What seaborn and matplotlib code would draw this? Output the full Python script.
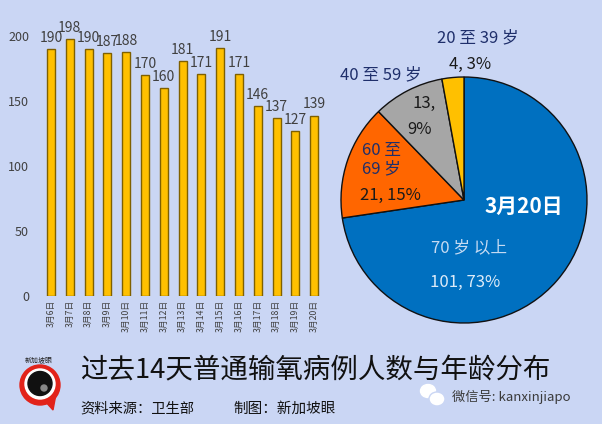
import matplotlib
matplotlib.use('Agg')
import matplotlib.pyplot as plt
import seaborn as sns
import pandas as pd
from matplotlib.patches import Circle, Polygon, Ellipse

# ---------------- data ----------------
dates = ['3月6日', '3月7日', '3月8日', '3月9日', '3月10日', '3月11日', '3月12日',
         '3月13日', '3月14日', '3月15日', '3月16日', '3月17日', '3月18日',
         '3月19日', '3月20日']
cases = [190, 198, 190, 187, 188, 170, 160, 181, 171, 191, 171, 146, 137, 127, 139]
y_ticks = [0, 50, 100, 150, 200]

age_groups = ['70岁以上', '60至69岁', '40至59岁', '20至39岁']
age_counts = [101, 21, 13, 4]
age_pct = [73, 15, 9, 3]
pie_colors = ['#0070C0', '#FF6600', '#A6A6A6', '#FFC000']
pie_date = '3月20日'

title = '过去14天普通输氧病例人数与年龄分布'
source = '资料来源：卫生部'
maker = '制图：新加坡眼'
wechat = '微信号: kanxinjiapo'
logo_text = '新加坡眼'

# ---------------- figure ----------------
W, H = 602, 424
sns.set_style('white')
plt.rcParams['font.family'] = ['Noto Sans CJK SC', 'DejaVu Sans']
bg = '#CAD6F4'
fig = plt.figure(figsize=(W / 100, H / 100), dpi=100)
fig.patch.set_facecolor(bg)


def fx(x):
    return x / W


def fy(y):
    return 1 - y / H


# ---------------- bar chart ----------------
ax = fig.add_axes([41.6 / W, 128 / H, 282 / W, 259.7 / H])
ax.set_facecolor('none')
df = pd.DataFrame({'date': dates, 'cases': cases})
sns.barplot(data=df, x='date', y='cases', color='#FFC000', saturation=1,
            width=0.43, edgecolor='#7F6000', linewidth=1, ax=ax)
ax.set_ylim(0, 200)
ax.set_xlim(-0.5, len(dates) - 0.5)
ax.set_yticks(y_ticks)
ax.tick_params(axis='y', length=0, pad=9, labelsize=9, labelcolor='#404040')
ax.tick_params(axis='x', length=0, pad=3, labelsize=6.3, labelcolor='#404040',
               rotation=90)
for s in ax.spines.values():
    s.set_visible(False)
ax.set_xlabel('')
ax.set_ylabel('')
ax.bar_label(ax.containers[0], padding=3, fontsize=10, color='#404040')

# ---------------- pie chart ----------------
r_px = 123
cx, cy = 464, 200
ext = 1.03
ax2 = fig.add_axes([(cx - r_px * ext) / W, (H - cy - r_px * ext) / H,
                    2 * r_px * ext / W, 2 * r_px * ext / H])
ax2.pie(age_counts, colors=pie_colors, startangle=90, counterclock=False,
        wedgeprops=dict(edgecolor='#111111', linewidth=1))
ax2.set_xlim(-ext, ext)
ax2.set_ylim(-ext, ext)
ax2.axis('off')

navy = '#1F2F6B'
dark = '#1a1a1a'
light1 = '#C5DAF2'
light2 = '#DDEBF8'


def lab(i):
    return f'{age_counts[i]}, {age_pct[i]}%'


# 20至39岁
fig.text(fx(478), fy(38), age_groups[3].replace('至', ' 至 ').replace('岁', ' 岁'),
         ha='center', va='center', fontsize=12, color=navy)
fig.text(fx(470), fy(64), lab(3), ha='center', va='center', fontsize=12, color=dark)
# 40至59岁
fig.text(fx(381), fy(75), age_groups[2].replace('至', ' 至 ').replace('岁', ' 岁'),
         ha='center', va='center', fontsize=12, color=navy)
fig.text(fx(424), fy(103), f'{age_counts[2]},', ha='center', va='center',
         fontsize=12, color=dark)
fig.text(fx(420), fy(129), f'{age_pct[2]}%', ha='center', va='center',
         fontsize=12, color=dark)
# 60至69岁
g = age_groups[1]
fig.text(fx(362), fy(150), g[:3].replace('至', ' 至'), ha='left', va='center',
         fontsize=12, color=navy)
fig.text(fx(362), fy(169), g[3:].replace('岁', ' 岁'), ha='left', va='center',
         fontsize=12, color=navy)
fig.text(fx(360), fy(195), lab(1), ha='left', va='center', fontsize=12, color=dark)
# date
fig.text(fx(524), fy(206), pie_date, ha='center', va='center', fontsize=15,
         fontweight='bold', color='white')
# 70岁以上
fig.text(fx(469), fy(248), age_groups[0].replace('岁', ' 岁 '), ha='center',
         va='center', fontsize=12, color=light1)
fig.text(fx(465), fy(282), lab(0), ha='center', va='center', fontsize=12,
         color=light2)

# ---------------- bottom texts ----------------
fig.text(fx(80), fy(370), title, ha='left', va='center', fontsize=19.8,
         color='#111111')
fig.text(fx(80), fy(409), source, ha='left', va='center', fontsize=10.3,
         color='#111111')
fig.text(fx(233), fy(409), maker, ha='left', va='center', fontsize=10.5,
         color='#111111')
fig.text(fx(452), fy(397), wechat, ha='left', va='center', fontsize=9.5,
         color='#3a3a3a')

# ---------------- decorations (logo, wechat icon) ----------------
ov = fig.add_axes([0, 0, 1, 1])
ov.set_xlim(0, W)
ov.set_ylim(H, 0)
ov.axis('off')
ov.patch.set_alpha(0)
ov.add_patch(Polygon([[44, 400], [56, 394], [53, 410]], closed=True,
                     color='#E2231A'))
ov.add_patch(Circle((40, 385), 20, color='#E2231A'))
ov.add_patch(Circle((40, 384), 15, color='white'))
ov.add_patch(Circle((40, 383.5), 12, color='#111111'))
ov.add_patch(Circle((44, 388), 3, color='#888888'))
ov.text(39, 360, logo_text, ha='center', va='center', fontsize=5,
        color='#222222')
ov.add_patch(Ellipse((428, 391), 15, 13, color='white'))
ov.add_patch(Ellipse((437, 399), 16, 14, facecolor='white', edgecolor=bg,
                     linewidth=1))

fig.savefig('out.png', dpi=100, facecolor=bg)
